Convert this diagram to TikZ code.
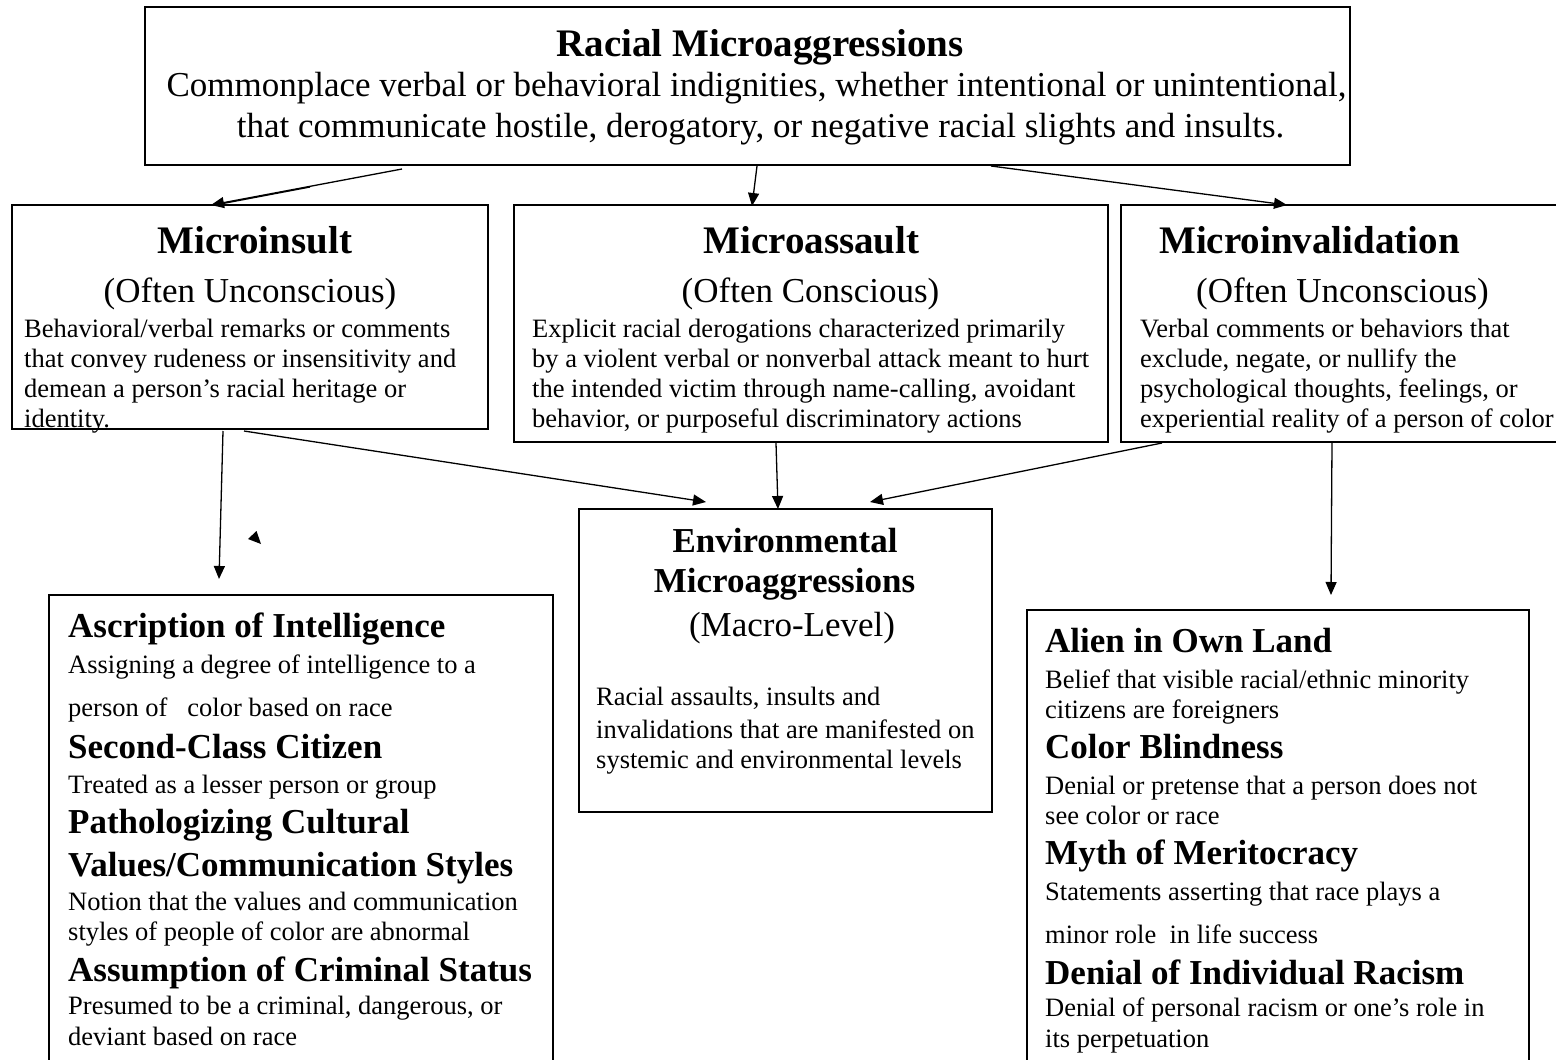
\documentclass[tikz,border=0pt]{standalone}
\usepackage{fontspec}
\setmainfont{Liberation Serif}
\usetikzlibrary{arrows.meta}
\tikzset{
  box/.style={draw, line width=1.6pt, inner sep=0pt},
  arr/.style={-{Triangle[length=13pt,width=11pt]}, line width=1.3pt},
  body/.style={anchor=base west, inner sep=0pt, font=\fontsize{26.5}{30}\selectfont},
  head/.style={anchor=base west, inner sep=0pt, font=\fontsize{35}{40}\selectfont\bfseries},
  ttl/.style={anchor=base, inner sep=0pt, font=\fontsize{39}{44}\selectfont\bfseries},
  ctrhead/.style={anchor=base, inner sep=0pt, font=\fontsize{35}{40}\selectfont\bfseries},
  sub/.style={anchor=base, inner sep=0pt, font=\fontsize{35}{40}\selectfont},
}
\begin{document}
\begin{tikzpicture}[x=1pt,y=-1pt]
\useasboundingbox (0,0) rectangle (1556,1060);
\clip (0,0) rectangle (1556,1060);
\fill[white] (0,0) rectangle (1556,1060);

% boxes
\node[box, minimum width=1205pt, minimum height=158pt] (top) at (747.5,86) {};
\node[box, minimum width=476pt, minimum height=224pt] (insult) at (250,317) {};
\node[box, minimum width=594pt, minimum height=237pt] (assault) at (811,323.5) {};
\node[box, minimum width=479pt, minimum height=237pt] (invalid) at (1360.5,323.5) {};
\node[box, minimum width=413pt, minimum height=303pt] (env) at (785.5,660.5) {};
\node[box, minimum width=504pt, minimum height=505pt] (left) at (301,847.5) {};
\node[box, minimum width=502pt, minimum height=490pt] (right) at (1278,855) {};

% top texts
\node[ttl] (t1) at (760,56) {Racial Microaggressions};
\node[sub] (t2) at (756.5,96) {Commonplace verbal or behavioral indignities, whether intentional or unintentional,};
\node[sub] (t3) at (760.5,137) {that communicate hostile, derogatory, or negative racial slights and insults.};

% microinsult
\node[ttl] (i1) at (255,253) {Microinsult};
\node[sub] (i2) at (250,302) {(Often Unconscious)};
\node[body] (i3) at (24,337) {Behavioral/verbal remarks or comments};
\node[body] (i4) at (24,367) {that convey rudeness or insensitivity and};
\node[body] (i5) at (24,397) {demean a person’s racial heritage or};
\node[body] (i6) at (24,427) {identity.};

% microassault
\node[ttl] (a1) at (811.5,253) {Microassault};
\node[sub] (a2) at (810.5,302) {(Often Conscious)};
\node[body] (a3) at (532,337) {Explicit racial derogations characterized primarily};
\node[body] (a4) at (532,367) {by a violent verbal or nonverbal attack meant to hurt};
\node[body] (a5) at (532,397) {the intended victim through name-calling, avoidant};
\node[body] (a6) at (532,427) {behavior, or purposeful discriminatory actions};

% microinvalidation
\node[ttl] (v1) at (1309.5,253) {Microinvalidation};
\node[sub] (v2) at (1342.5,302) {(Often Unconscious)};
\node[body] (v3) at (1140,337) {Verbal comments or behaviors that};
\node[body] (v4) at (1140,367) {exclude, negate, or nullify the};
\node[body] (v5) at (1140,397) {psychological thoughts, feelings, or};
\node[body] (v6) at (1140,427) {experiential reality of a person of color};

% environmental
\node[ctrhead] (e1) at (785,552) {Environmental};
\node[ctrhead] (e2) at (784.5,592) {Microaggressions};
\node[sub] (e3) at (792,636) {(Macro-Level)};
\node[body] (e4) at (596,705) {Racial assaults, insults and};
\node[body] (e5) at (596,738) {invalidations that are manifested on};
\node[body] (e6) at (596,768) {systemic and environmental levels};

% left bottom
\node[head] (l1) at (68,637) {Ascription of Intelligence};
\node[body] (l2) at (68,673) {Assigning a degree of intelligence to a};
\node[body] (l3) at (68,716) {person of\hspace{0.5em} color based on race};
\node[head] (l4) at (68,758) {Second-Class Citizen};
\node[body] (l5) at (68,793) {Treated as a lesser person or group};
\node[head] (l6) at (68,833) {Pathologizing Cultural};
\node[head] (l7) at (68,876) {Values/Communication Styles};
\node[body] (l8) at (68,910) {Notion that the values and communication};
\node[body] (l9) at (68,940) {styles of people of color are abnormal};
\node[head] (l10) at (68,981) {Assumption of Criminal Status};
\node[body] (l11) at (68,1014) {Presumed to be a criminal, dangerous, or};
\node[body] (l12) at (68,1045) {deviant based on race};

% right bottom
\node[head] (r1) at (1045,652) {Alien in Own Land};
\node[body] (r2) at (1045,688) {Belief that visible racial/ethnic minority};
\node[body] (r3) at (1045,718) {citizens are foreigners};
\node[head] (r4) at (1045,758) {Color Blindness};
\node[body] (r5) at (1045,794) {Denial or pretense that a person does not};
\node[body] (r6) at (1045,824) {see color or race};
\node[head] (r7) at (1045,864) {Myth of Meritocracy};
\node[body] (r8) at (1045,900) {Statements asserting that race plays a};
\node[body] (r9) at (1045,943) {minor role\hspace{0.25em} in life success};
\node[head] (r10) at (1045,984) {Denial of Individual Racism};
\node[body] (r11) at (1045,1016) {Denial of personal racism or one’s role in};
\node[body] (r12) at (1045,1047) {its perpetuation};

% connector end points
\coordinate (c1s) at (402,169);
\coordinate (c1m) at (310,187);
\coordinate (c1e) at (211,205);
\coordinate (c2s) at (757,166);
\coordinate (c2e) at (752,206);
\coordinate (c3s) at (991,166);
\coordinate (c3e) at (1287,205);
\coordinate (c4s) at (223,431);
\coordinate (c4e) at (219,579);
\coordinate (c5s) at (244,431);
\coordinate (c5e) at (706,502);
\coordinate (c6s) at (776,443);
\coordinate (c6e) at (778,509);
\coordinate (c7s) at (1162,443);
\coordinate (c7e) at (870,502);
\coordinate (c8s) at (1332,443);
\coordinate (c8e) at (1331,595);

\draw[arr] (c1s) -- (c1e);
\draw[line width=1.3pt] (c1m) -- ([xshift=4pt]c1e);
\draw[arr] (c2s) -- (c2e);
\draw[arr] (c3s) -- (c3e);
\draw[arr] (c4s) -- (c4e);
\draw[arr] (c5s) -- (c5e);
\draw[arr] (c6s) -- (c6e);
\draw[arr] (c7s) -- (c7e);
\draw[arr] (c8s) -- (c8e);

% stray arrowhead
\coordinate (s1) at (256.5,531);
\coordinate (s2) at (248,539);
\coordinate (s3) at (261,544);
\fill (s1) -- (s2) -- (s3) -- cycle;
\end{tikzpicture}
\end{document}
